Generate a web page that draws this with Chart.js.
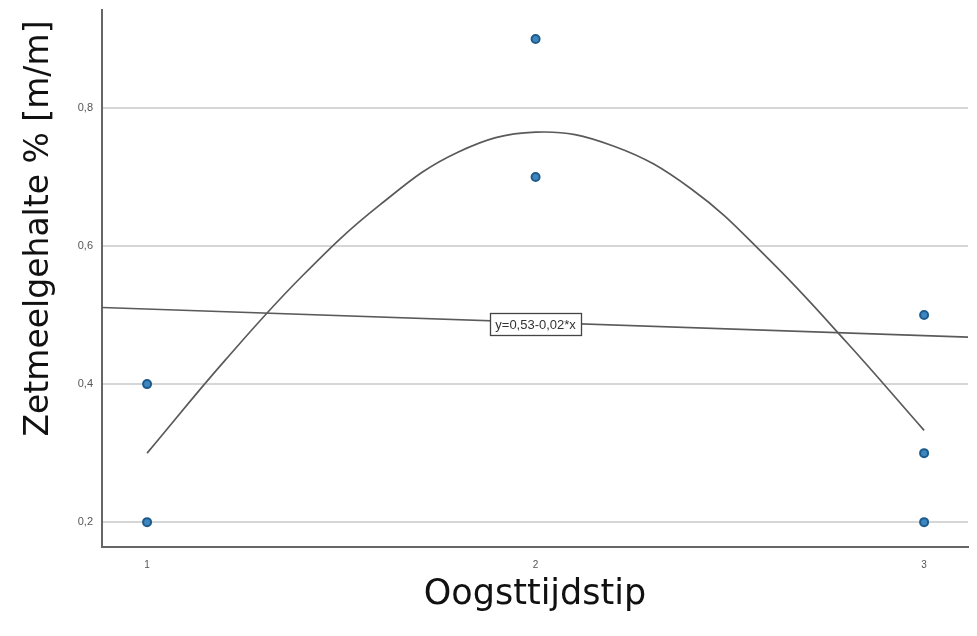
<!DOCTYPE html>
<html>
<head>
<meta charset="utf-8">
<script src="https://cdn.jsdelivr.net/npm/chart.js@4/dist/chart.umd.min.js"></script>
<style>
  html, body { margin: 0; padding: 0; background: #fff; }
  #wrap { width: 977px; height: 636px; }
</style>
</head>
<body>
<div id="wrap"><canvas id="c" width="977" height="636"></canvas></div>
<script>
// Observed data points
const obsX = [1, 1, 2, 2, 3, 3, 3];
const obsY = [0.4, 0.2, 0.9, 0.7, 0.5, 0.3, 0.2];

// Curved fit line
const curveX = [1.0, 1.2, 1.4, 1.6, 1.8, 2.0, 2.2, 2.4, 2.6, 2.8, 3.0];
const curveY = [0.300, 0.434, 0.557, 0.660, 0.736, 0.765, 0.745, 0.683, 0.581, 0.461, 0.333];

// Straight fit line endpoints (at the axis limits)
const lineX = [0.884, 3.113];
const lineY = [0.511, 0.468];

// Axes
const xTicks = [1, 2, 3];
const yTicks = [0.2, 0.4, 0.6, 0.8];
const xMin = 0.884, xMax = 3.113;
const yMin = 0.164, yMax = 0.942;

const xTitle = 'Oogsttijdstip';
const yTitle = 'Zetmeelgehalte % [m/m] ';
const fitLabel = 'y=0,53-0,02*x';
const fitLabelAt = { x: 2, y: 0.487 };

const toXY = (xs, ys) => xs.map((x, i) => ({ x: x, y: ys[i] }));

const labelPlugin = {
  id: 'fitLabel',
  afterDatasetsDraw(chart) {
    const ctx = chart.ctx;
    const px = chart.scales.x.getPixelForValue(fitLabelAt.x);
    const py = chart.scales.y.getPixelForValue(fitLabelAt.y);
    ctx.save();
    ctx.font = '13px "Liberation Sans", Arial, sans-serif';
    const w = Math.round(ctx.measureText(fitLabel).width + 10);
    const h = 22;
    const x0 = Math.round(px - w / 2), y0 = Math.round(py - h / 2);
    ctx.fillStyle = '#ffffff';
    ctx.fillRect(x0, y0, w, h);
    ctx.strokeStyle = '#444';
    ctx.lineWidth = 1.3;
    ctx.strokeRect(x0 + 0.5, y0 + 0.5, w, h);
    ctx.fillStyle = '#333';
    ctx.textAlign = 'center';
    ctx.textBaseline = 'middle';
    ctx.fillText(fitLabel, px, py + 1);
    ctx.restore();
  }
};

new Chart(document.getElementById('c'), {
  type: 'scatter',
  data: {
    datasets: [
      {
        data: toXY(obsX, obsY),
        backgroundColor: '#3d86bf',
        borderColor: '#1d5b8c',
        borderWidth: 2,
        pointRadius: 4,
        order: 1
      },
      {
        data: toXY(curveX, curveY),
        showLine: true,
        borderColor: '#5a5a5a',
        borderWidth: 1.7,
        pointRadius: 0,
        tension: 0.4,
        order: 2
      },
      {
        data: toXY(lineX, lineY),
        showLine: true,
        borderColor: '#5a5a5a',
        borderWidth: 1.7,
        pointRadius: 0,
        order: 3
      }
    ]
  },
  options: {
    responsive: false,
    animation: false,
    layout: { padding: { top: 10, right: 9, left: 0, bottom: 0 } },
    plugins: { legend: { display: false }, tooltip: { enabled: false } },
    scales: {
      x: {
        type: 'linear',
        min: xMin, max: xMax,
        afterBuildTicks: s => { s.ticks = xTicks.map(v => ({ value: v })); },
        afterFit: s => { s.height = 89; s.paddingLeft = 0; s.paddingRight = 0; },
        grid: { display: false, drawTicks: false },
        border: { display: true, color: '#666', width: 2 },
        ticks: { padding: 12, color: '#555', font: { family: '"Liberation Sans", Arial, sans-serif', size: 10 }, maxRotation: 0,
                 callback: v => String(v) },
        title: { display: true, text: xTitle, color: '#111',
                 font: { family: '"DejaVu Sans", Verdana, sans-serif', size: 35 },
                 padding: { top: 0, bottom: 20 } }
      },
      y: {
        type: 'linear',
        min: yMin, max: yMax,
        afterBuildTicks: s => { s.ticks = yTicks.map(v => ({ value: v })); },
        afterFit: s => { s.width = 102; s.paddingTop = 0; s.paddingBottom = 0; },
        grid: { display: true, drawTicks: false, color: '#d6d6d6', lineWidth: 2 },
        border: { display: true, color: '#666', width: 2 },
        ticks: { padding: 9, color: '#555', font: { family: '"Liberation Sans", Arial, sans-serif', size: 11 },
                 callback: v => v.toFixed(1).replace('.', ',') },
        title: { display: true, text: yTitle, color: '#111', align: 'end',
                 font: { family: '"DejaVu Sans", Verdana, sans-serif', size: 33 },
                 padding: { top: 20, bottom: 0 } }
      }
    }
  },
  plugins: [labelPlugin]
});
</script>
</body>
</html>
